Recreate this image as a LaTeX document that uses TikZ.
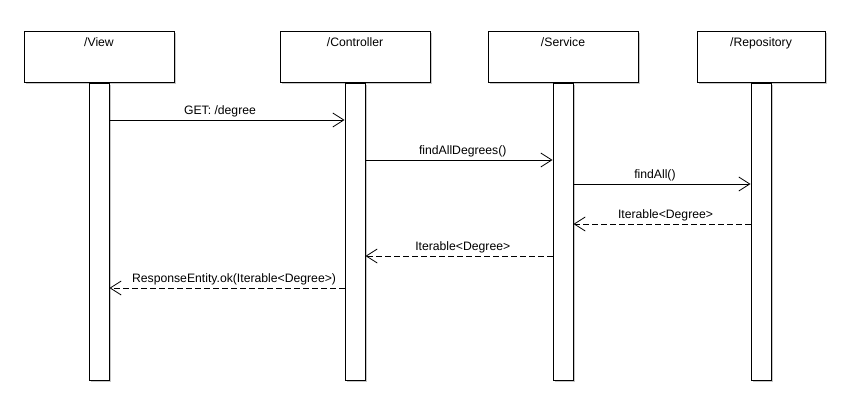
\documentclass[tikz,border=0pt]{standalone}
\usepackage{fontspec}
\setmainfont{Liberation Sans}
\usetikzlibrary{positioning}
\usetikzlibrary{arrows.meta}
\usetikzlibrary{shadows}
\tikzset{
	% lifeline heads and activation bars
	shade/.style={drop shadow={shadow xshift=1.5pt,shadow yshift=-1.5pt,fill=black!22,opacity=1}},
	head/.style={draw=black,fill=white,line width=1pt,minimum height=50pt,inner sep=0pt,shade},
	headlbl/.style={anchor=north,inner sep=0pt,yshift=-5.5pt,font=\fontsize{12.2}{14}\selectfont},
	bar/.style={draw=black,fill=white,line width=1pt,minimum width=20pt,minimum height=297pt,inner sep=0pt,anchor=north,shade},
	% messages
	call/.style={line width=0.8pt,-{Straight Barb[length=11pt,width=14pt,line width=0.8pt]}},
	reply/.style={call,dash pattern=on 6pt off 3pt},
	msg/.style={above,inner sep=2.5pt,font=\fontsize{12.2}{14}\selectfont},
}
\begin{document}
\begin{tikzpicture}[x=1pt,y=-1pt]
\useasboundingbox (0,0) rectangle (864,412);
% the lifelines
\foreach \id/\lbl/\x/\w in {view/View/99/150,ctrl/Controller/355/150,svc/Service/563/150,repo/Repository/761/128}
{
  \node[head,minimum width=\w pt,label={[headlbl]north:/\lbl}] (\id) at (\x,57) {};
  \node[bar] (\id-bar) at (\id.south) {};
}
% the calls
\draw[call] (view-bar.east |- 0,120) -- node[msg,pos=0.47]{GET: /degree} (ctrl-bar.west |- 0,120);
\draw[call] (ctrl-bar.east |- 0,160) -- node[msg,pos=0.52]{findAllDegrees()} (svc-bar.west |- 0,160);
\draw[call] (svc-bar.east |- 0,184) -- node[msg,pos=0.46]{findAll()} (repo-bar.west |- 0,184);
% the replies
\draw[reply] (repo-bar.west |- 0,224) -- node[msg,pos=0.48]{Iterable<Degree>} (svc-bar.east |- 0,224);
\draw[reply] (svc-bar.west |- 0,256) -- node[msg,pos=0.48]{Iterable<Degree>} (ctrl-bar.east |- 0,256);
\draw[reply] (ctrl-bar.west |- 0,288) -- node[msg,pos=0.47]{ResponseEntity.ok(Iterable<Degree>)} (view-bar.east |- 0,288);
\end{tikzpicture}
\end{document}
